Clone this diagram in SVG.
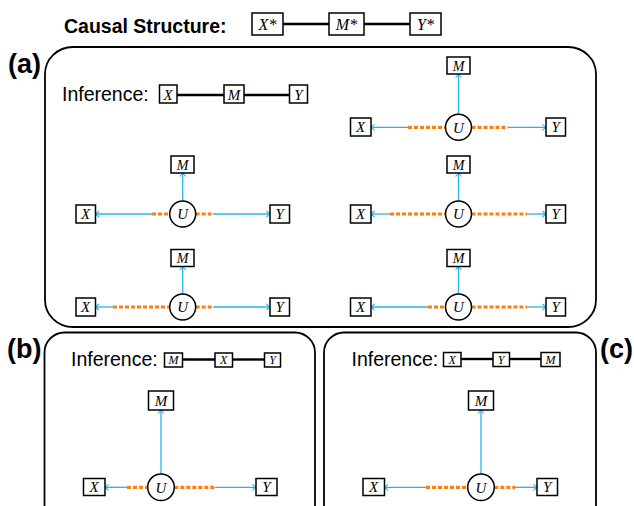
<svg xmlns="http://www.w3.org/2000/svg" width="634" height="506" viewBox="0 0 634 506">
<style>
.lbl{font-family:"Liberation Sans",Arial,sans-serif;fill:#000}
.bold{font-weight:bold}
.m{font-family:"Liberation Serif","Times New Roman",serif;font-style:italic;fill:#000;text-anchor:middle}
.box{fill:#fff;stroke:#000;stroke-width:1.5}
.panel{fill:none;stroke:#000;stroke-width:1.8}
.ln{stroke:#000;stroke-width:2.4}
.blue{stroke:#2ab3ea;stroke-width:1.3;fill:none;marker-end:url(#ah)}
.or{stroke:#ff7f0e;stroke-width:3.2;stroke-dasharray:4 2;fill:none}
.u{fill:#fff;stroke:#000;stroke-width:1.5}
</style>
<defs>
<marker id="ah" viewBox="-5 -4 6 8" refX="0" refY="0" markerWidth="6" markerHeight="8" orient="auto" markerUnits="userSpaceOnUse">
<path d="M-3.5,-3 Q-0.8,-0.6 0,0 Q-0.8,0.6 -3.5,3" fill="none" stroke="#2ab3ea" stroke-width="1.1"/>
</marker>
</defs>

<!-- Top causal structure -->
<g id="causal">
<text class="lbl bold" x="64" y="33" font-size="19.5">Causal Structure:</text>
<line class="ln" x1="283" y1="24" x2="329" y2="24"/>
<line class="ln" x1="364" y1="24" x2="410" y2="24"/>
<g id="cs-x"><rect class="box" x="252" y="13" width="31" height="22"/><text class="m" x="267.5" y="30" font-size="16">X*</text></g>
<g id="cs-m"><rect class="box" x="329" y="13" width="35" height="22"/><text class="m" x="346.5" y="30" font-size="16">M*</text></g>
<g id="cs-y"><rect class="box" x="410" y="13" width="31" height="22"/><text class="m" x="425.5" y="30" font-size="16">Y*</text></g>
</g>

<!-- Panels -->
<g id="panel-a">
<rect class="panel" x="45" y="47" width="551" height="280" rx="28" ry="27"/>
<text class="lbl bold" x="8" y="73" font-size="27">(a)</text>
</g>
<g id="panel-b">
<rect class="panel" x="44.5" y="332.5" width="270.5" height="200" rx="20" ry="20"/>
<text class="lbl bold" x="7" y="358" font-size="27">(b)</text>
</g>
<g id="panel-c">
<rect class="panel" x="324" y="332.5" width="272" height="200" rx="20" ry="20"/>
<text class="lbl bold" x="600" y="358" font-size="27">(c)</text>
</g>

<!-- Inference rows -->
<g id="inf-a">
<text class="lbl" x="62" y="101" font-size="19.5">Inference:</text>
<line class="ln" x1="177" y1="95" x2="224" y2="95"/>
<line class="ln" x1="244" y1="95" x2="289" y2="95"/>
<rect class="box" x="159.5" y="85" width="17.5" height="18"/><text class="m" x="168.2" y="99.5" font-size="15">X</text>
<rect class="box" x="224" y="85" width="20" height="18"/><text class="m" x="234" y="99.5" font-size="15">M</text>
<rect class="box" x="289.5" y="85" width="18" height="18"/><text class="m" x="298.5" y="99.5" font-size="15">Y</text>
</g>
<g id="inf-b">
<text class="lbl" x="71" y="366" font-size="19.5">Inference:</text>
<line class="ln" x1="182.5" y1="359.5" x2="215" y2="359.5"/>
<line class="ln" x1="232.5" y1="359.5" x2="264" y2="359.5"/>
<rect class="box" x="164.5" y="353" width="18" height="14"/><text class="m" x="173.5" y="364" font-size="12">M</text>
<rect class="box" x="215" y="353" width="17.5" height="14"/><text class="m" x="223.7" y="364" font-size="12">X</text>
<rect class="box" x="264.5" y="353" width="16" height="14"/><text class="m" x="272.5" y="364" font-size="12">Y</text>
</g>
<g id="inf-c">
<text class="lbl" x="351.5" y="366" font-size="19.5">Inference:</text>
<line class="ln" x1="461" y1="359" x2="493" y2="359"/>
<line class="ln" x1="509" y1="359" x2="541" y2="359"/>
<rect class="box" x="443.5" y="352.5" width="17.5" height="14"/><text class="m" x="452.2" y="363.5" font-size="12">X</text>
<rect class="box" x="493" y="352.5" width="16.5" height="14"/><text class="m" x="501.2" y="363.5" font-size="12">Y</text>
<rect class="box" x="541" y="352.5" width="19" height="14"/><text class="m" x="550.5" y="363.5" font-size="12">M</text>
</g>

<!-- Connectors -->
<g id="connectors">
<line class="or" x1="408" y1="127.3" x2="445.5" y2="127.3"/>
<line class="or" x1="471.5" y1="127.3" x2="508" y2="127.3"/>
<line class="blue" x1="408" y1="127.3" x2="371" y2="127.3"/>
<line class="blue" x1="508" y1="127.3" x2="546" y2="127.3"/>
<line class="blue" x1="458.5" y1="114.3" x2="458.5" y2="74"/>
<line class="or" x1="152" y1="214" x2="169.7" y2="214"/>
<line class="or" x1="195.7" y1="214" x2="213" y2="214"/>
<line class="blue" x1="152" y1="214" x2="95.5" y2="214"/>
<line class="blue" x1="213" y1="214" x2="270" y2="214"/>
<line class="blue" x1="182.7" y1="201" x2="182.7" y2="173"/>
<line class="or" x1="390" y1="214" x2="445.5" y2="214"/>
<line class="or" x1="471.5" y1="214" x2="527" y2="214"/>
<line class="blue" x1="390" y1="214" x2="371" y2="214"/>
<line class="blue" x1="527" y1="214" x2="546" y2="214"/>
<line class="blue" x1="458.5" y1="201" x2="458.5" y2="173"/>
<line class="or" x1="113" y1="307" x2="169.7" y2="307"/>
<line class="or" x1="195.7" y1="307" x2="213" y2="307"/>
<line class="blue" x1="113" y1="307" x2="95.5" y2="307"/>
<line class="blue" x1="213" y1="307" x2="270" y2="307"/>
<line class="blue" x1="182.7" y1="294" x2="182.7" y2="266.5"/>
<line class="or" x1="428" y1="307" x2="445.5" y2="307"/>
<line class="or" x1="471.5" y1="307" x2="527" y2="307"/>
<line class="blue" x1="428" y1="307" x2="371" y2="307"/>
<line class="blue" x1="527" y1="307" x2="546" y2="307"/>
<line class="blue" x1="458.5" y1="294" x2="458.5" y2="266.5"/>
<line class="or" x1="127" y1="487.3" x2="147.7" y2="487.3"/>
<line class="or" x1="174.3" y1="487.3" x2="215" y2="487.3"/>
<line class="blue" x1="127" y1="487.3" x2="105" y2="487.3"/>
<line class="blue" x1="215" y1="487.3" x2="256" y2="487.3"/>
<line class="blue" x1="161" y1="474" x2="161" y2="410"/>
<line class="or" x1="426" y1="487.3" x2="467.7" y2="487.3"/>
<line class="or" x1="494.3" y1="487.3" x2="515" y2="487.3"/>
<line class="blue" x1="426" y1="487.3" x2="384.5" y2="487.3"/>
<line class="blue" x1="515" y1="487.3" x2="537" y2="487.3"/>
<line class="blue" x1="481" y1="474" x2="481" y2="410"/>
</g>

<g id="a1-m"><rect class="box" x="447" y="57" width="23" height="17"/><text class="m" x="458.5" y="70.5" font-size="14">M</text></g>
<g id="a1-x"><rect class="box" x="350.5" y="118" width="20.5" height="18"/><text class="m" x="360.7" y="132" font-size="15">X</text></g>
<g id="a1-y"><rect class="box" x="546" y="118" width="19.5" height="18"/><text class="m" x="555.7" y="132" font-size="15">Y</text></g>
<g id="a1-u"><circle class="u" cx="458.5" cy="127.3" r="13"/><text class="m" x="458.5" y="132.5" font-size="15">U</text></g>

<g id="a2-m"><rect class="box" x="171" y="156" width="23" height="17"/><text class="m" x="182.5" y="169.5" font-size="14">M</text></g>
<g id="a2-x"><rect class="box" x="76" y="205" width="19.5" height="18"/><text class="m" x="85.7" y="219" font-size="15">X</text></g>
<g id="a2-y"><rect class="box" x="270" y="205" width="19.5" height="18"/><text class="m" x="279.7" y="219" font-size="15">Y</text></g>
<g id="a2-u"><circle class="u" cx="182.7" cy="214" r="13"/><text class="m" x="182.7" y="219.2" font-size="15">U</text></g>

<g id="a3-m"><rect class="box" x="447" y="156" width="23" height="17"/><text class="m" x="458.5" y="169.5" font-size="14">M</text></g>
<g id="a3-x"><rect class="box" x="350.5" y="205" width="20.5" height="18"/><text class="m" x="360.7" y="219" font-size="15">X</text></g>
<g id="a3-y"><rect class="box" x="546" y="205" width="19.5" height="18"/><text class="m" x="555.7" y="219" font-size="15">Y</text></g>
<g id="a3-u"><circle class="u" cx="458.5" cy="214" r="13"/><text class="m" x="458.5" y="219.2" font-size="15">U</text></g>

<g id="a4-m"><rect class="box" x="171" y="249.5" width="23" height="17"/><text class="m" x="182.5" y="263" font-size="14">M</text></g>
<g id="a4-x"><rect class="box" x="76" y="298" width="19.5" height="18"/><text class="m" x="85.7" y="312" font-size="15">X</text></g>
<g id="a4-y"><rect class="box" x="270" y="298" width="19.5" height="18"/><text class="m" x="279.7" y="312" font-size="15">Y</text></g>
<g id="a4-u"><circle class="u" cx="182.7" cy="307" r="13"/><text class="m" x="182.7" y="312.2" font-size="15">U</text></g>

<g id="a5-m"><rect class="box" x="447" y="249.5" width="23" height="17"/><text class="m" x="458.5" y="263" font-size="14">M</text></g>
<g id="a5-x"><rect class="box" x="350.5" y="298" width="20.5" height="18"/><text class="m" x="360.7" y="312" font-size="15">X</text></g>
<g id="a5-y"><rect class="box" x="546" y="298" width="19.5" height="18"/><text class="m" x="555.7" y="312" font-size="15">Y</text></g>
<g id="a5-u"><circle class="u" cx="458.5" cy="307" r="13"/><text class="m" x="458.5" y="312.2" font-size="15">U</text></g>

<g id="b-m"><rect class="box" x="148.5" y="391" width="25" height="19"/><text class="m" x="161" y="406" font-size="15">M</text></g>
<g id="b-x"><rect class="box" x="83.5" y="478.5" width="21.5" height="17"/><text class="m" x="94.2" y="492" font-size="15">X</text></g>
<g id="b-y"><rect class="box" x="256" y="478.5" width="21" height="17"/><text class="m" x="266.5" y="492" font-size="15">Y</text></g>
<g id="b-u"><circle class="u" cx="161" cy="487.3" r="13.3"/><text class="m" x="161" y="492.5" font-size="15">U</text></g>

<g id="c-m"><rect class="box" x="468.5" y="391" width="25" height="19"/><text class="m" x="481" y="406" font-size="15">M</text></g>
<g id="c-x"><rect class="box" x="363" y="478.5" width="21.5" height="17"/><text class="m" x="373.7" y="492" font-size="15">X</text></g>
<g id="c-y"><rect class="box" x="537" y="478.5" width="20.5" height="17"/><text class="m" x="547.2" y="492" font-size="15">Y</text></g>
<g id="c-u"><circle class="u" cx="481" cy="487.3" r="13.3"/><text class="m" x="481" y="492.5" font-size="15">U</text></g>
</svg>
